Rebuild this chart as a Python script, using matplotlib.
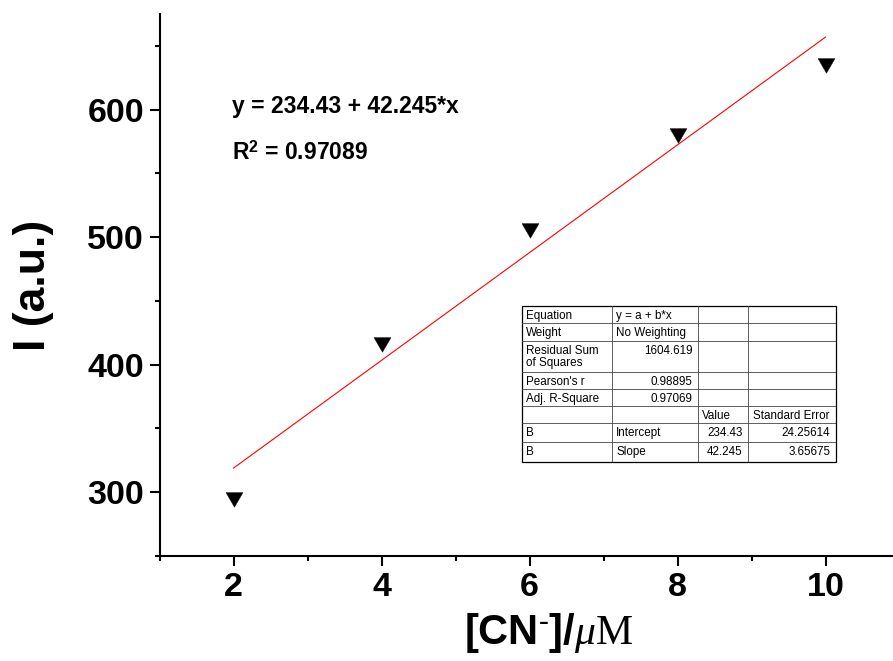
import matplotlib
matplotlib.use("Agg")
import matplotlib.pyplot as plt
from matplotlib.ticker import MultipleLocator
from matplotlib.patches import Rectangle
from matplotlib.lines import Line2D

# ---- data ---------------------------------------------------------------
conc_uM = [2, 4, 6, 8, 10]
intensity = [296.5, 417.5, 507.5, 581.5, 636.5]

fit_intercept = 234.43
fit_slope = 42.245
fit_r2 = 0.97089

x_ticks = [2, 4, 6, 8, 10]
y_ticks = [300, 400, 500, 600]

table_rows = [
    ["Equation", "y = a + b*x", "", ""],
    ["Weight", "No Weighting", "", ""],
    ["Residual Sum\nof Squares", "1604.619", "", ""],
    ["Pearson's r", "0.98895", "", ""],
    ["Adj. R-Square", "0.97069", "", ""],
    ["", "", "Value", "Standard Error"],
    ["B", "Intercept", "234.43", "24.25614"],
    ["B", "Slope", "42.245", "3.65675"],
]

# ---- style --------------------------------------------------------------
plt.rcParams["font.family"] = ["Liberation Sans", "DejaVu Sans"]
plt.rcParams["mathtext.fontset"] = "custom"
plt.rcParams["mathtext.bf"] = "Liberation Sans:bold"
plt.rcParams["mathtext.it"] = "Liberation Serif:italic"
plt.rcParams["mathtext.rm"] = "Liberation Serif"

W, H = 893, 661
fig = plt.figure(figsize=(W / 100, H / 100), dpi=100)

# axes: x from 1 to 11, y from 250 to 675
ax_l, ax_r, ax_t, ax_b = 159.5, 899.5, 14, 556
ax = fig.add_axes([ax_l / W, (H - ax_b) / H, (ax_r - ax_l) / W, (ax_b - ax_t) / H])
ax.set_xlim(1, 11)
ax.set_ylim(250, 675)

for side in ("top", "right"):
    ax.spines[side].set_visible(False)
for side in ("left", "bottom"):
    ax.spines[side].set_linewidth(1.5)

ax.set_xticks(x_ticks)
ax.set_yticks(y_ticks)
ax.xaxis.set_minor_locator(MultipleLocator(1))
ax.yaxis.set_minor_locator(MultipleLocator(50))
ax.tick_params(which="major", direction="out", length=7.2, width=1.5,
               labelsize=24.5)
ax.tick_params(which="minor", direction="out", length=3.6, width=1.5)
ax.tick_params(axis="y", which="major", pad=4)
ax.tick_params(axis="x", which="major", pad=4)
for lab in ax.get_xticklabels() + ax.get_yticklabels():
    lab.set_fontweight("bold")

# fitted line
xs = [conc_uM[0], conc_uM[-1]]
ax.plot(xs, [fit_intercept + fit_slope * v for v in xs], color="red", lw=0.8,
        zorder=2)

# measured points: downward triangles, centred on their centroid
tri_down = [(-0.87, 0.5), (0.87, 0.5), (0.0, -1.0), (-0.87, 0.5)]
ax.plot(conc_uM, intensity, linestyle="none", marker=tri_down, markersize=14,
        color="black", markeredgewidth=0.3, zorder=3)

# axis labels
ax.set_xlabel(r"$\mathbf{[CN}^{\mathbf{\text{-}}}\mathbf{]/}\mathit{\mu}\mathrm{M}$",
              fontsize=30)
ax.xaxis.set_label_coords((548.5 - ax_l) / (ax_r - ax_l), -0.102)
ax.set_ylabel("I (a.u.)", fontsize=32, fontweight="bold", va="center")
ax.yaxis.set_label_coords((33.5 - ax_l) / (ax_r - ax_l), 0.5)

# fit equation annotation
eq_kw = dict(fontsize=16.5, fontweight="bold", ha="left", va="baseline",
             transform=fig.transFigure)
fig.text(232 / W, 1 - 112.5 / H,
         f"y = {fit_intercept:.2f} + {fit_slope:.3f}*x", **eq_kw)
fig.text(232 / W, 1 - 159.5 / H,
         r"R$^{\mathbf{2}}$ = " + f"{fit_r2:.5f}", **eq_kw)

# ---- fit summary table --------------------------------------------------
tb_l, tb_t = 521.7, 306.0
col_edges = [0, 90, 176, 226.6, 314.3]
row_edges = [0, 16.7, 34.7, 65.7, 83.3, 100, 117.3, 135.7, 156.3]
tw, th = col_edges[-1], row_edges[-1]
tax = fig.add_axes([tb_l / W, (H - tb_t - th) / H, tw / W, th / H])
tax.set_xlim(0, tw)
tax.set_ylim(th, 0)
tax.axis("off")
tax.add_patch(Rectangle((0, 0), tw, th, facecolor="white", edgecolor="black",
                        lw=0.9, clip_on=False, zorder=1))
for xc in col_edges[1:-1]:
    tax.add_line(Line2D([xc, xc], [0, th], color="#444444", lw=0.6, zorder=2))
for yr in row_edges[1:-1]:
    tax.add_line(Line2D([0, tw], [yr, yr], color="#444444", lw=0.6, zorder=2))


def is_number(s):
    try:
        float(s)
        return True
    except ValueError:
        return False


for r, row in enumerate(table_rows):
    for c, txt in enumerate(row):
        if not txt:
            continue
        top = row_edges[r] + 4.0
        if is_number(txt):
            tax.text(col_edges[c + 1] - 5.5, top, txt, ha="right", va="top",
                     fontsize=8.4, linespacing=1.05, zorder=3)
        else:
            tax.text(col_edges[c] + 4.5, top, txt, ha="left", va="top",
                     fontsize=8.4, linespacing=1.05, zorder=3)

fig.savefig("out.png", dpi=100)
